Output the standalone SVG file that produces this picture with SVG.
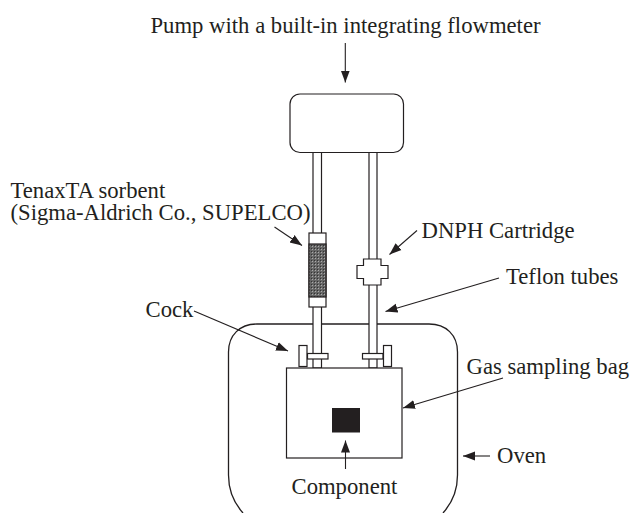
<svg xmlns="http://www.w3.org/2000/svg" width="630" height="513" viewBox="0 0 630 513">
<style>
.s{fill:#fff;stroke:#231f20;stroke-width:1.2}
.n{fill:none;stroke:#231f20;stroke-width:1.3}
.a{fill:none;stroke:#231f20;stroke-width:1.1;marker-end:url(#h)}
text{font-family:"Liberation Serif","Times New Roman",serif;font-size:22.7px;fill:#231f20}
</style>
<defs>
<marker id="h" markerUnits="userSpaceOnUse" markerWidth="13" markerHeight="11" refX="12" refY="5" orient="auto"><path d="M0 0.500L12 5L0 9.500Z" fill="#231f20"/></marker>
<pattern id="m" width="3" height="3" patternUnits="userSpaceOnUse"><rect width="3" height="3" fill="#666"/><rect width="1" height="1" fill="#aaa"/><rect x="2" y="2" width="1" height="1" fill="#333"/></pattern>
</defs>
<rect width="630" height="513" fill="#fff"/>
<g id="oven"><path class="n" d="M243 513C234 503 228.500 492 228.500 475V352C228.500 335 240 324 257 324H429C446 324 457.500 335 457.500 352V475C457.500 492 452 503 443 513"/></g>
<g id="tubes">
<rect class="s" x="313" y="150" width="8.500" height="218"/>
<rect class="s" x="369" y="150" width="8" height="218"/>
</g>
<g id="pump"><rect class="s" x="290" y="94" width="113.500" height="58.500" rx="10"/></g>
<g id="tenax">
<rect class="s" x="309" y="233" width="17" height="74"/>
<rect x="309" y="244" width="17" height="53" fill="url(#m)" stroke="#231f20" stroke-width="1.200"/>
</g>
<g id="dnph"><path class="s" d="M363.500 259H381V265.500H388V278.500H381V285H363.500V278.500H357V265.500H363.500Z"/></g>
<g id="cock-left"><rect class="s" x="299" y="345.500" width="8" height="21"/><rect class="s" x="307.500" y="353.500" width="20.500" height="5.500"/></g>
<g id="cock-right"><rect class="s" x="362.500" y="353.500" width="20.500" height="5.500"/><rect class="s" x="383.500" y="345.500" width="8" height="21"/></g>
<g id="bag"><rect class="s" x="286.500" y="368" width="115.500" height="90"/></g>
<g id="component"><rect x="332" y="408" width="28" height="24.500" fill="#231f20"/></g>
<g id="connectors">
<path class="a" d="M345.300 43V82.500"/>
<path class="a" d="M274.500 227L302 245.500"/>
<path class="a" d="M417 230.500L389.500 254.500"/>
<path class="a" d="M499 278L385.500 311.500"/>
<path class="a" d="M194 311L288 351"/>
<path class="a" d="M503 378L403 408"/>
<path class="a" d="M490 456H463"/>
<path class="a" d="M345.500 469V440.500"/>
</g>
<g id="labels">
<text x="150.500" y="32.500">Pump with a built-in integrating flowmeter</text>
<text y="197.500"><tspan x="10.500">TenaxTA sorbent</tspan><tspan x="10.500" dy="22.500">(Sigma-Aldrich Co., SUPELCO)</tspan></text>
<text x="421.500" y="237.500">DNPH Cartridge</text>
<text x="506" y="283.500">Teflon tubes</text>
<text x="145.500" y="316.500">Cock</text>
<text x="466.500" y="373.500">Gas sampling bag</text>
<text x="497" y="462.500">Oven</text>
<text x="291.500" y="494">Component</text>
</g>
</svg>
